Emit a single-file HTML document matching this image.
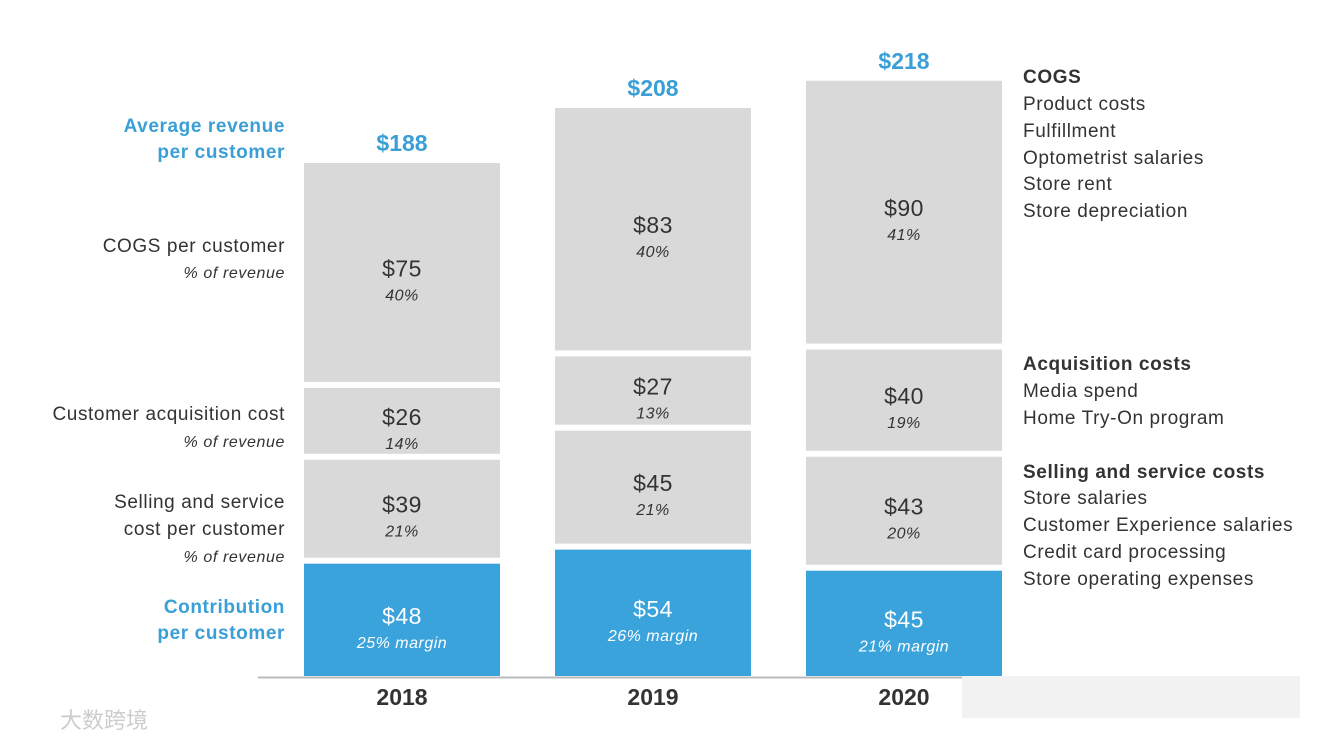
<!DOCTYPE html>
<html><head><meta charset="utf-8">
<style>
body{margin:0;background:#fff;width:1332px;height:743px;overflow:hidden;font-family:"Liberation Sans","Noto Sans CJK SC",sans-serif;}
svg{display:block}
</style></head>
<body>
<svg id="chart" width="1332" height="743" viewBox="0 0 1332 743">
<g id="left" font-size="19" letter-spacing="0.6" fill="#333" text-anchor="end">
<text x="285" y="132" fill="#3a9fd6" font-weight="bold">Average revenue</text>
<text x="285" y="158" fill="#3a9fd6" font-weight="bold">per customer</text>
<text x="285" y="252">COGS per customer</text>
<text x="285" y="278" font-size="16" font-style="italic">% of revenue</text>
<text x="285" y="420">Customer acquisition cost</text>
<text x="285" y="447" font-size="16" font-style="italic">% of revenue</text>
<text x="285" y="508">Selling and service</text>
<text x="285" y="535">cost per customer</text>
<text x="285" y="562" font-size="16" font-style="italic">% of revenue</text>
<text x="285" y="613" fill="#3a9fd6" font-weight="bold">Contribution</text>
<text x="285" y="639" fill="#3a9fd6" font-weight="bold">per customer</text>
</g>
<g font-size="19" letter-spacing="0.6" fill="#333">
<text x="1023" y="83" font-weight="bold">COGS</text>
<text x="1023" y="110">Product costs</text>
<text x="1023" y="137">Fulfillment</text>
<text x="1023" y="164">Optometrist salaries</text>
<text x="1023" y="190">Store rent</text>
<text x="1023" y="217">Store depreciation</text>
<text x="1023" y="370" font-weight="bold">Acquisition costs</text>
<text x="1023" y="397">Media spend</text>
<text x="1023" y="424">Home Try-On program</text>
<text x="1023" y="478" font-weight="bold">Selling and service costs</text>
<text x="1023" y="504">Store salaries</text>
<text x="1023" y="531">Customer Experience salaries</text>
<text x="1023" y="558">Credit card processing</text>
<text x="1023" y="585">Store operating expenses</text>
</g>
<line x1="258" y1="677.5" x2="1002" y2="677.5" stroke="#bbb" stroke-width="2"/>
<g id="bars"></g>
<g>
<text x="60" y="728" font-size="22" fill="#ccc">大数跨境</text>
<rect x="962" y="676" width="338" height="42" fill="#f2f2f2"/>
</g>
</svg>
<script>
const years=["2018","2019","2020"];
const totals=[188,208,218];
const contribution=[48,54,45];
const margins=["25% margin","26% margin","21% margin"];
const selling=[39,45,43];
const sellingPct=["21%","21%","20%"];
const cac=[26,27,40];
const cacPct=["14%","13%","19%"];
const cogs=[75,83,90];
const cogsPct=["40%","40%","41%"];

const NS="http://www.w3.org/2000/svg";
const g=document.getElementById('bars');
const base=676, gap=6, barW=196;
// the original graphic uses a slightly different vertical scale per cost row
const scaleOf={contribution:2.34,selling:2.51,acquisition:2.53,cogs:2.92};
const xOf=i=>304+i*251;
function mk(tag,attrs,txt){const e=document.createElementNS(NS,tag);for(const a in attrs)e.setAttribute(a,attrs[a]);if(txt!=null)e.textContent=txt;g.appendChild(e);return e;}
years.forEach((yr,i)=>{
  const x=xOf(i), cx=x+barW/2;
  const segs=[
    {v:contribution[i],p:margins[i],fill:"#3ba3dc",tc:"#fff",n:"contribution"},
    {v:selling[i],p:sellingPct[i],fill:"#d9d9d9",tc:"#333",n:"selling"},
    {v:cac[i],p:cacPct[i],fill:"#d9d9d9",tc:"#333",n:"acquisition"},
    {v:cogs[i],p:cogsPct[i],fill:"#d9d9d9",tc:"#333",n:"cogs"}];
  let y=base;
  segs.forEach((s,j)=>{
    const h=s.v*scaleOf[s.n];
    const top=y-h;
    const r=mk('rect',{x:x,y:top,width:barW,height:h,fill:s.fill});
    
    
    const mid=top+h/2;
    const t1=mk('text',{x:cx,y:mid+4,'text-anchor':'middle','font-size':23,fill:s.tc,'letter-spacing':0.5},'$'+s.v);
    
    
    const t2=mk('text',{x:cx,y:mid+28,'text-anchor':'middle','font-size':16,'font-style':'italic',fill:s.tc,'letter-spacing':0.5},s.p);
    
    
    y=top-gap;
  });
  const tt=mk('text',{x:cx,y:y-6,'text-anchor':'middle','font-size':23,'font-weight':'bold',fill:'#3a9fd6'},'$'+totals[i]);
  
  
  const yl=mk('text',{x:cx,y:705,'text-anchor':'middle','font-size':23,'font-weight':'bold',fill:'#333'},yr);
  
  
});
</script>
</body></html>
